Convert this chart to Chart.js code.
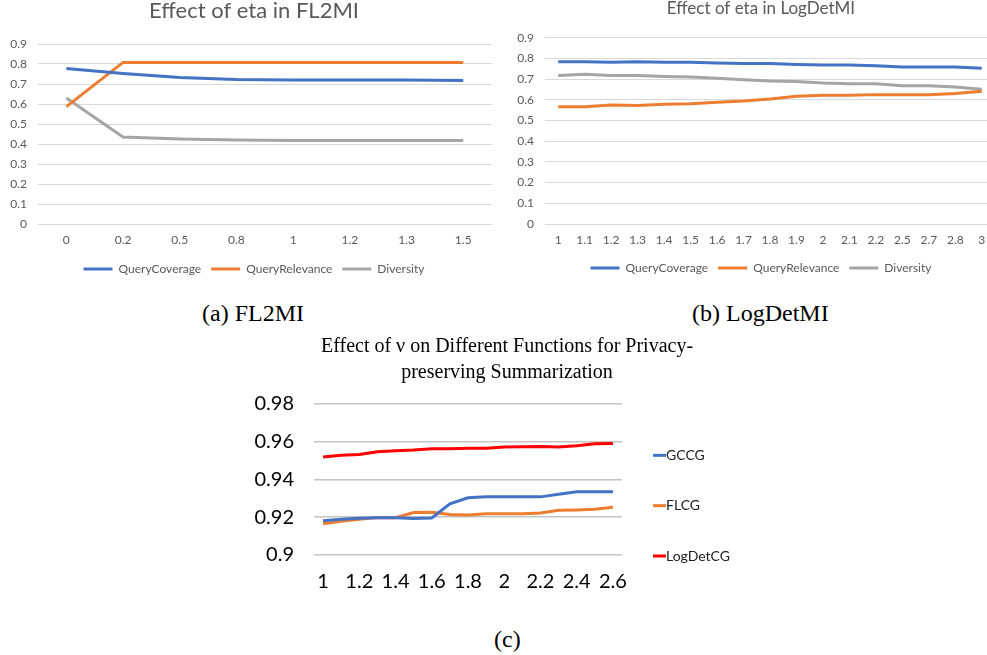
<!DOCTYPE html>
<html>
<head>
<meta charset="utf-8">
<script src="https://cdn.jsdelivr.net/npm/chart.js@4.4.0/dist/chart.umd.min.js"></script>
<style>
  html, body { margin:0; padding:0; background:#fff; width:987px; height:655px; overflow:hidden; }
  .box { position:absolute; }
  .cap { position:absolute; font-family:"Liberation Serif","Times New Roman",serif; font-size:24px; color:#000; white-space:nowrap; line-height:28px; }
</style>
</head>
<body>
<div class="box" style="left:0px;top:0px;width:508px;height:285px;"><canvas id="ca"></canvas></div>
<div class="box" style="left:510px;top:0px;width:502px;height:284px;"><canvas id="cb"></canvas></div>
<div class="box" style="left:240px;top:330px;width:534px;height:264px;"><canvas id="cc"></canvas></div>
<div class="cap" style="left:202px;top:299px;">(a) FL2MI</div>
<div class="cap" style="left:692px;top:299px;">(b) LogDetMI</div>
<div class="cap" style="left:494px;top:625px;">(c)</div>
<script>
// ---- data (a) FL2MI ----
const fl2miEta = ['0','0.2','0.5','0.8','1','1.2','1.3','1.5'];
const fl2miCoverage  = [0.778,0.753,0.733,0.723,0.720,0.720,0.720,0.717];
const fl2miRelevance = [0.587,0.808,0.808,0.807,0.807,0.807,0.807,0.807];
const fl2miDiversity = [0.630,0.435,0.425,0.420,0.417,0.417,0.417,0.417];

// ---- data (b) LogDetMI ----
const logdetEta = ['1','1.1','1.2','1.3','1.4','1.5','1.6','1.7','1.8','1.9','2','2.1','2.2','2.5','2.7','2.8','3'];
const logdetCoverage  = [0.784,0.784,0.781,0.784,0.781,0.781,0.778,0.775,0.775,0.771,0.768,0.768,0.765,0.758,0.758,0.758,0.752];
const logdetRelevance = [0.567,0.567,0.575,0.572,0.578,0.581,0.588,0.594,0.604,0.617,0.622,0.622,0.625,0.625,0.625,0.631,0.641];
const logdetDiversity = [0.717,0.723,0.717,0.717,0.713,0.710,0.704,0.697,0.691,0.688,0.681,0.678,0.678,0.668,0.668,0.662,0.651];

// ---- data (c) privacy-preserving ----
const nuValues = ['1','1.1','1.2','1.3','1.4','1.5','1.6','1.7','1.8','1.9','2','2.1','2.2','2.3','2.4','2.5','2.6'];
const nuTickLabels = ['1','1.2','1.4','1.6','1.8','2','2.2','2.4','2.6'];
const gccg     = [0.9182,0.9189,0.9195,0.9198,0.9198,0.9193,0.9196,0.9271,0.9303,0.9308,0.9308,0.9308,0.9308,0.9322,0.9335,0.9335,0.9335];
const flcg     = [0.9165,0.9179,0.9189,0.9198,0.9198,0.9225,0.9227,0.9214,0.9212,0.9218,0.9218,0.9218,0.9223,0.9237,0.9239,0.9242,0.9253];
const logdetcg = [0.9519,0.9529,0.9533,0.9547,0.9552,0.9556,0.9563,0.9563,0.9565,0.9566,0.9572,0.9573,0.9575,0.9572,0.9579,0.9589,0.9591];

const BLUE = '#4472C4', ORANGE = '#ED7D31', GRAY = '#A5A5A5', RED = '#FF0000';
const SANS = 'Lato, "Open Sans", "Liberation Sans", sans-serif';
const TXT = '#595959';

function ds(label, data, color) {
  return { label, data, borderColor: color, backgroundColor: color, borderWidth: 3,
           pointRadius: 0, pointHoverRadius: 0, tension: 0, fill: false };
}
const fmt = v => String(+Number(v).toFixed(2));

// invisible right-hand spacer axis (reserves room without shifting the centred title/legend)
function spacer(w, min, max) {
  return { type: 'linear', axis: 'y', position: 'right', display: true, min, max,
           grid: { display: false, drawTicks: false }, border: { display: false },
           ticks: { display: false }, afterFit: s => { s.width = w; } };
}

function excelChart(id, labels, sets, title, titleSize, titlePad, yW, padRight, xH) {
  return new Chart(document.getElementById(id), {
    type: 'line',
    data: { labels, datasets: sets },
    options: {
      responsive: true, maintainAspectRatio: false, animation: false,
      plugins: {
        title: { display: true, text: title, color: TXT,
                 font: { family: SANS, size: titleSize, weight: 'normal', lineHeight: 1 },
                 padding: titlePad },
        legend: { position: 'bottom',
                  labels: { usePointStyle: true, pointStyle: 'line', pointStyleWidth: 29,
                            color: TXT, font: { family: SANS, size: 12 }, padding: 10 } },
        tooltip: { enabled: false }
      },
      scales: {
        x: { offset: true, grid: { display: false, drawTicks: false }, border: { display: false },
             ticks: { color: TXT, font: { family: SANS, size: 12 }, padding: 8.8, autoSkip: false, maxRotation: 0 },
             afterFit: s => { s.height = xH; } },
        y: { min: 0, max: 0.9, grid: { color: '#D9D9D9', lineWidth: 1, drawTicks: false }, border: { display: false },
             ticks: { stepSize: 0.1, color: TXT, font: { family: SANS, size: 12 }, padding: 11, callback: fmt },
             afterFit: s => { s.width = yW; } },
        yR: spacer(padRight, 0, 0.9)
      }
    }
  });
}

excelChart('ca', fl2miEta,
  [ds('QueryCoverage', fl2miCoverage, BLUE), ds('QueryRelevance', fl2miRelevance, ORANGE), ds('Diversity', fl2miDiversity, GRAY)],
  'Effect of eta in FL2MI', 22, { top: 0, bottom: 22 }, 38, 16.4, 29);

excelChart('cb', logdetEta,
  [ds('QueryCoverage', logdetCoverage, BLUE), ds('QueryRelevance', logdetRelevance, ORANGE), ds('Diversity', logdetDiversity, GRAY)],
  'Effect of eta in LogDetMI', 17, { top: 0, bottom: 20.7 }, 35, 17, 28);

// custom vertical legend for chart (c)
const sideLegend = {
  id: 'sideLegend',
  afterDraw(chart) {
    const { ctx, chartArea } = chart;
    const h = chartArea.bottom - chartArea.top;
    chart.data.datasets.forEach((d, i) => {
      const y = chartArea.top + (i + 1) * h / 3 + 1;
      const x = chartArea.right + 31;
      ctx.save();
      ctx.strokeStyle = d.borderColor; ctx.lineWidth = 3;
      ctx.beginPath(); ctx.moveTo(x, y); ctx.lineTo(x + 13, y); ctx.stroke();
      ctx.fillStyle = '#222'; ctx.font = '14px ' + SANS; ctx.textBaseline = 'middle';
      ctx.fillText(d.label, x + 13, y);
      ctx.restore();
    });
  }
};

new Chart(document.getElementById('cc'), {
  type: 'line',
  data: { labels: nuValues,
          datasets: [ds('GCCG', gccg, BLUE), ds('FLCG', flcg, ORANGE), ds('LogDetCG', logdetcg, RED)] },
  plugins: [sideLegend],
  options: {
    responsive: true, maintainAspectRatio: false, animation: false,
    plugins: {
      title: { display: true, color: '#000',
               text: ['Effect of \u03BD on Different Functions for Privacy-', 'preserving Summarization'],
               font: { family: '"Liberation Serif", "Times New Roman", serif', size: 20, weight: 'normal', lineHeight: 26/20 },
               padding: { top: 4, bottom: 18 } },
      legend: { display: false },
      tooltip: { enabled: false }
    },
    scales: {
      x: { offset: true, grid: { display: false, drawTicks: false }, border: { display: false },
           ticks: { color: '#000', font: { family: SANS, size: 20 }, padding: 15, autoSkip: false, maxRotation: 0,
                    callback: (v, i) => (i % 2 === 0 ? nuTickLabels[i / 2] : '') },
           afterFit: s => { s.height = 39; } },
      y: { min: 0.9, max: 0.98, grid: { color: '#C4C4C4', lineWidth: 1.5, drawTicks: false }, border: { display: false },
           ticks: { stepSize: 0.02, color: '#000', font: { family: SANS, size: 20 }, padding: 20, callback: fmt },
           afterFit: s => { s.width = 74; } },
      yR: spacer(152, 0.9, 0.98)
    }
  }
});
</script>
</body>
</html>
